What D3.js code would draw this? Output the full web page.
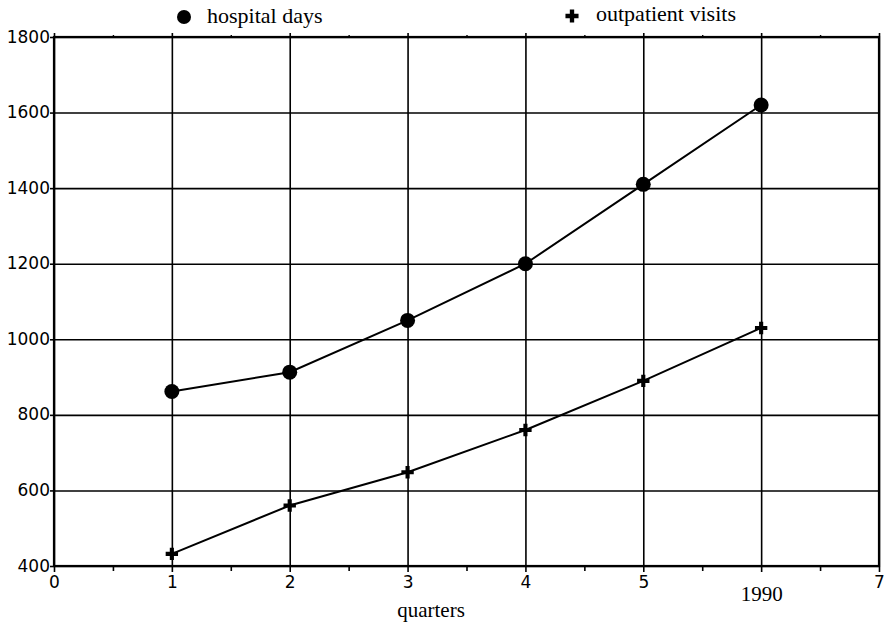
<!DOCTYPE html>
<html>
<head>
<meta charset="utf-8">
<script src="https://cdn.jsdelivr.net/npm/d3@7"></script>
<style>
  body { margin: 0; background: #fff; }
  .sans { font-family: "DejaVu Sans", sans-serif; }
  .serif { font-family: "Liberation Serif", "Times New Roman", serif; }
</style>
</head>
<body>
<svg width="885" height="630"></svg>
<script>
// Data
const quarters = [1, 2, 3, 4, 5, 6];
const hospitalDays = [862, 913, 1050, 1200, 1410, 1620];
const outpatientVisits = [432, 560, 648, 760, 890, 1030];
const xTicks = [0, 1, 2, 3, 4, 5, 6, 7];
const xTickLabels = ["0", "1", "2", "3", "4", "5", "1990", "7"];
const yTicks = [400, 600, 800, 1000, 1200, 1400, 1600, 1800];

// The svg
const svg = d3.select("svg");
const margin = { left: 54, right: 6, top: 37, bottom: 64 };
const width = +svg.attr("width"),
  height = +svg.attr("height");

const x = d3.scaleLinear()
  .domain([0, 7])
  .range([margin.left, width - margin.right]);

const y = d3.scaleLinear()
  .domain([400, 1800])
  .range([height - margin.bottom, margin.top]);

const x0 = x(0), x1 = x(7), y0 = y(400), y1 = y(1800);

// Horizontal grid
svg.append("g")
  .attr("transform", `translate(${x0},0)`)
  .call(d3.axisLeft(y).tickValues(yTicks).tickSize(-(x1 - x0)).tickFormat(""))
  .call(g => g.select(".domain").remove())
  .selectAll("line")
  .attr("stroke", "#000")
  .attr("stroke-width", 1.6);

// Vertical grid (sticks out a little above the top)
svg.append("g")
  .attr("transform", `translate(0,${y0})`)
  .call(d3.axisBottom(x).tickValues(xTicks).tickSize(-(y0 - y1) - 4).tickFormat(""))
  .call(g => g.select(".domain").remove())
  .selectAll("line")
  .attr("stroke", "#000")
  .attr("stroke-width", 1.6);

// Frame
svg.append("rect")
  .attr("x", x0)
  .attr("y", y1)
  .attr("width", x1 - x0)
  .attr("height", y0 - y1)
  .attr("fill", "none")
  .attr("stroke", "#000")
  .attr("stroke-width", 2.2);

// Minor ticks at half quarters
const halves = d3.range(0.5, 7, 1);
svg.append("g")
  .attr("transform", `translate(0,${y0})`)
  .call(d3.axisBottom(x).tickValues(halves).tickSize(5).tickFormat(""))
  .call(g => g.select(".domain").remove())
  .selectAll("line").attr("stroke", "#000").attr("stroke-width", 1.6);

svg.append("g")
  .attr("transform", `translate(0,${y1})`)
  .call(d3.axisTop(x).tickValues(halves).tickSize(2).tickFormat(""))
  .call(g => g.select(".domain").remove())
  .selectAll("line").attr("stroke", "#000").attr("stroke-width", 1.4);

// X axis ticks and labels
const xAxis = svg.append("g")
  .attr("transform", `translate(0,${y0})`)
  .call(d3.axisBottom(x).tickValues(xTicks).tickSize(6).tickPadding(3)
    .tickFormat((d, i) => xTickLabels[i]))
  .call(g => g.select(".domain").remove());
xAxis.selectAll("line").attr("stroke", "#000").attr("stroke-width", 1.6);
xAxis.selectAll("text")
  .attr("class", d => d === 6 ? "serif" : "sans")
  .attr("fill", "#000")
  .attr("dy", d => d === 6 ? "1.25em" : "0.75em")
  .style("font-size", d => d === 6 ? "21px" : "17px");

// Y axis ticks and labels
const yAxis = svg.append("g")
  .attr("transform", `translate(${x0},0)`)
  .call(d3.axisLeft(y).tickValues(yTicks).tickSize(4).tickPadding(0)
    .tickFormat(d3.format("d")))
  .call(g => g.select(".domain").remove());
yAxis.selectAll("line").attr("stroke", "#000").attr("stroke-width", 1.6);
yAxis.selectAll("text")
  .attr("class", "sans")
  .attr("fill", "#000")
  .attr("dy", "0.3em")
  .style("font-size", "17px");

// X axis title
svg.append("text")
  .attr("class", "serif")
  .attr("x", 431)
  .attr("y", 617)
  .attr("text-anchor", "middle")
  .style("font-size", "21px")
  .text("quarters");

// Lines
const line = d3.line()
  .x((d, i) => x(quarters[i]))
  .y(d => y(d));

svg.append("path")
  .datum(hospitalDays)
  .attr("d", line)
  .attr("fill", "none")
  .attr("stroke", "#000")
  .attr("stroke-width", 2);

svg.append("path")
  .datum(outpatientVisits)
  .attr("d", line)
  .attr("fill", "none")
  .attr("stroke", "#000")
  .attr("stroke-width", 2);

// Markers
svg.selectAll("hospitalDots")
  .data(hospitalDays)
  .join("circle")
  .attr("cx", (d, i) => x(quarters[i]))
  .attr("cy", d => y(d))
  .attr("r", 7.5)
  .attr("fill", "#000");

const cross = d3.symbol().type(d3.symbolCross).size(85);
svg.selectAll("outpatientDots")
  .data(outpatientVisits)
  .join("path")
  .attr("transform", (d, i) => `translate(${x(quarters[i])},${y(d)})`)
  .attr("d", cross)
  .attr("fill", "#000");

// Legend
svg.append("circle")
  .attr("cx", 184)
  .attr("cy", 17)
  .attr("r", 7)
  .attr("fill", "#000");
svg.append("text")
  .attr("class", "serif")
  .attr("x", 207)
  .attr("y", 23)
  .style("font-size", "22px")
  .text("hospital days");

svg.append("path")
  .attr("transform", "translate(572,16)")
  .attr("d", d3.symbol().type(d3.symbolCross).size(95))
  .attr("fill", "#000");
svg.append("text")
  .attr("class", "serif")
  .attr("x", 596)
  .attr("y", 21)
  .style("font-size", "22px")
  .text("outpatient visits");
</script>
</body>
</html>
